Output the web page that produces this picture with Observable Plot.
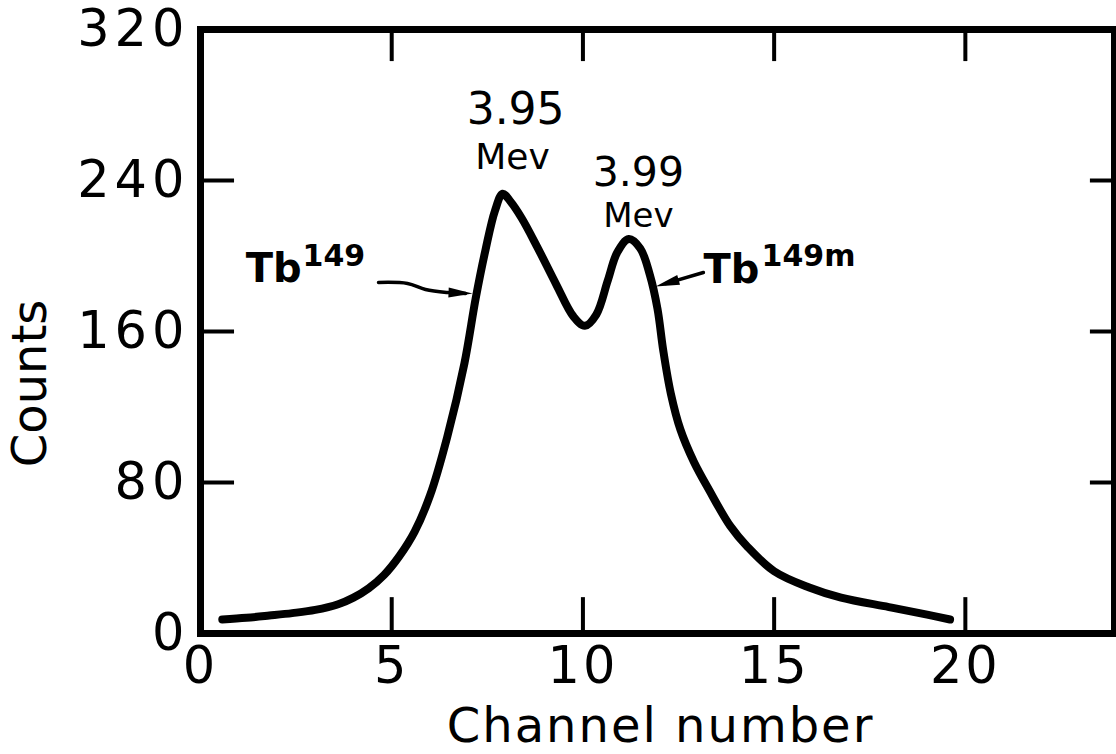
<!DOCTYPE html>
<html>
<head>
<meta charset="utf-8">
<script src="https://cdn.jsdelivr.net/npm/d3@7"></script>
<script src="https://cdn.jsdelivr.net/npm/@observablehq/plot@0.6"></script>
<style>
  html, body { margin: 0; padding: 0; background: white; }
  #chart { width: 1116px; height: 754px; overflow: hidden; }
</style>
</head>
<body>
<div id="chart"></div>
<script>
// Spectrum
const channel = [0.57, 1.2, 1.8, 2.4, 3.0, 3.6, 4.0, 4.4, 4.8, 5.2, 5.6, 6.0, 6.45, 6.9, 7.2, 7.45, 7.7, 7.9, 8.1, 8.4, 8.8, 9.3, 9.75, 10.05, 10.35, 10.65, 10.9, 11.2, 11.5, 11.75, 11.95, 12.1, 12.3, 12.55, 12.9, 13.3, 13.85, 14.3, 15.0, 15.9, 16.75, 18.0, 19.0, 19.6];
const counts  = [7.4, 8.3, 9.5, 10.8, 12.5, 15.5, 19, 24, 31, 41, 54, 73, 104, 143, 178, 203, 224, 233, 229, 220, 205, 185, 168, 163, 169, 187, 202, 209, 204, 190, 172, 150, 127, 108, 91, 76, 57, 46, 33, 24.5, 19, 14, 10, 7.4];

const xTicks = [0, 5, 10, 15, 20];
const yTicks = [0, 80, 160, 240, 320];
const xInnerTicks = [5, 10, 15, 20];
const yInnerTicks = [80, 160, 240];

const xLabel = "Channel number";
const yLabel = "Counts";
const peakLabels = ["3.95", "Mev", "3.99", "Mev"];
const isotope = "Tb";
const isotopeSup = ["149", "149m"];

// annotation arrow paths (data units)
const arrowLeft = [[4.655, 185.96], [5.413, 185.43], [5.884, 182.25], [6.459, 180.66], [6.93, 180.13]];
const arrowLeftTip = [[7.113, 180.13]];
const arrowRight = [[13.15, 191.26], [12.16, 185.4]];
const arrowRightTip = [[11.90, 183.8]];

const spectrum = channel.map((c, i) => ({c, n: counts[i]}));

function headSymbol(dx, dy, L, W) {
  const len = Math.hypot(dx, dy); const ux = dx / len, uy = dy / len;
  return {
    draw(ctx) {
      ctx.moveTo(0, 0);
      ctx.lineTo(-L * ux - W * uy, -L * uy + W * ux);
      ctx.lineTo(-L * ux + W * uy, -L * uy - W * ux);
      ctx.closePath();
    }
  };
}

const font = "DejaVu Sans";
const chart = Plot.plot({
  width: 1116,
  height: 754,
  marginLeft: 200,
  marginRight: 2,
  marginTop: 29,
  marginBottom: 121,
  x: {domain: [0, 23.9]},
  y: {domain: [0, 320]},
  style: {fontFamily: font, background: "white", color: "black"},
  marks: [
    Plot.ruleX(xInnerTicks, {x: d => d, y1: 0, y2: 19, strokeWidth: 4}),
    Plot.ruleX(xInnerTicks, {x: d => d, y1: 320, y2: 303, strokeWidth: 4}),
    Plot.ruleY(yInnerTicks, {y: d => d, x1: 0, x2: 0.89, strokeWidth: 4}),
    Plot.ruleY(yInnerTicks, {y: d => d, x1: 23.9, x2: 23.27, strokeWidth: 4}),
    Plot.frame({stroke: "black", strokeWidth: 7}),
    Plot.axisX({ticks: xTicks, tickSize: 0, tickPadding: 13, fontSize: 51, label: null, tickFormat: d => String(d)}),
    Plot.axisY({ticks: yTicks, tickSize: 0, tickPadding: 11, fontSize: 51, label: null, tickFormat: d => String(d)}),
    Plot.line(spectrum, {x: "c", y: "n", curve: "catmull-rom", stroke: "black", strokeWidth: 8, strokeLinecap: "round", strokeLinejoin: "round"}),
    Plot.text([xLabel], {x: 12.03, y: -49.3, text: d => d, fontSize: 48, textAnchor: "middle", lineAnchor: "middle"}),
    Plot.text([yLabel], {x: -4.45, y: 132.5, text: d => d, fontSize: 48, rotate: -90, textAnchor: "middle", lineAnchor: "middle"}),
    Plot.text([peakLabels[0]], {x: 8.24, y: 277.6, text: d => d, fontSize: 44, textAnchor: "middle", lineAnchor: "middle"}),
    Plot.text([peakLabels[1]], {x: 8.16, y: 252.2, text: d => d, fontSize: 36, textAnchor: "middle", lineAnchor: "middle"}),
    Plot.text([peakLabels[2]], {x: 11.45, y: 244.2, text: d => d, fontSize: 41, textAnchor: "middle", lineAnchor: "middle"}),
    Plot.text([peakLabels[3]], {x: 11.45, y: 220.9, text: d => d, fontSize: 34, textAnchor: "middle", lineAnchor: "middle"}),
    Plot.text([isotope], {x: 1.18, y: 192.8, text: d => d, fontSize: 40, fontWeight: "bold", textAnchor: "start", lineAnchor: "middle"}),
    Plot.text([isotopeSup[0]], {x: 2.67, y: 199.7, text: d => d, fontSize: 30, fontWeight: "bold", textAnchor: "start", lineAnchor: "middle"}),
    Plot.text([isotope], {x: 13.15, y: 192.6, text: d => d, fontSize: 40, fontWeight: "bold", textAnchor: "start", lineAnchor: "middle"}),
    Plot.text([isotopeSup[1]], {x: 14.67, y: 200, text: d => d, fontSize: 30, fontWeight: "bold", textAnchor: "start", lineAnchor: "middle"}),
    Plot.line(arrowLeft, {x: d => d[0], y: d => d[1], curve: "catmull-rom", stroke: "black", strokeWidth: 3.5, strokeLinecap: "round"}),
    Plot.line(arrowRight, {x: d => d[0], y: d => d[1], stroke: "black", strokeWidth: 3.5, strokeLinecap: "round"}),
    Plot.dot(arrowLeftTip, {x: d => d[0], y: d => d[1], symbol: headSymbol(25, 1, 24, 5), fill: "black", stroke: "none", r: 5}),
    Plot.dot(arrowRightTip, {x: d => d[0], y: d => d[1], symbol: headSymbol(-48, 14, 24, 5), fill: "black", stroke: "none", r: 5})
  ]
});

const svg = d3.select(chart);
svg.selectAll('[aria-label="y-axis tick label"] text').attr("letter-spacing", 5);
svg.selectAll('[aria-label="x-axis tick label"] text').attr("letter-spacing", 3);
svg.selectAll("text").filter(function() { return this.textContent === xLabel; }).attr("letter-spacing", 2);

document.getElementById("chart").appendChild(chart);
</script>
</body>
</html>
